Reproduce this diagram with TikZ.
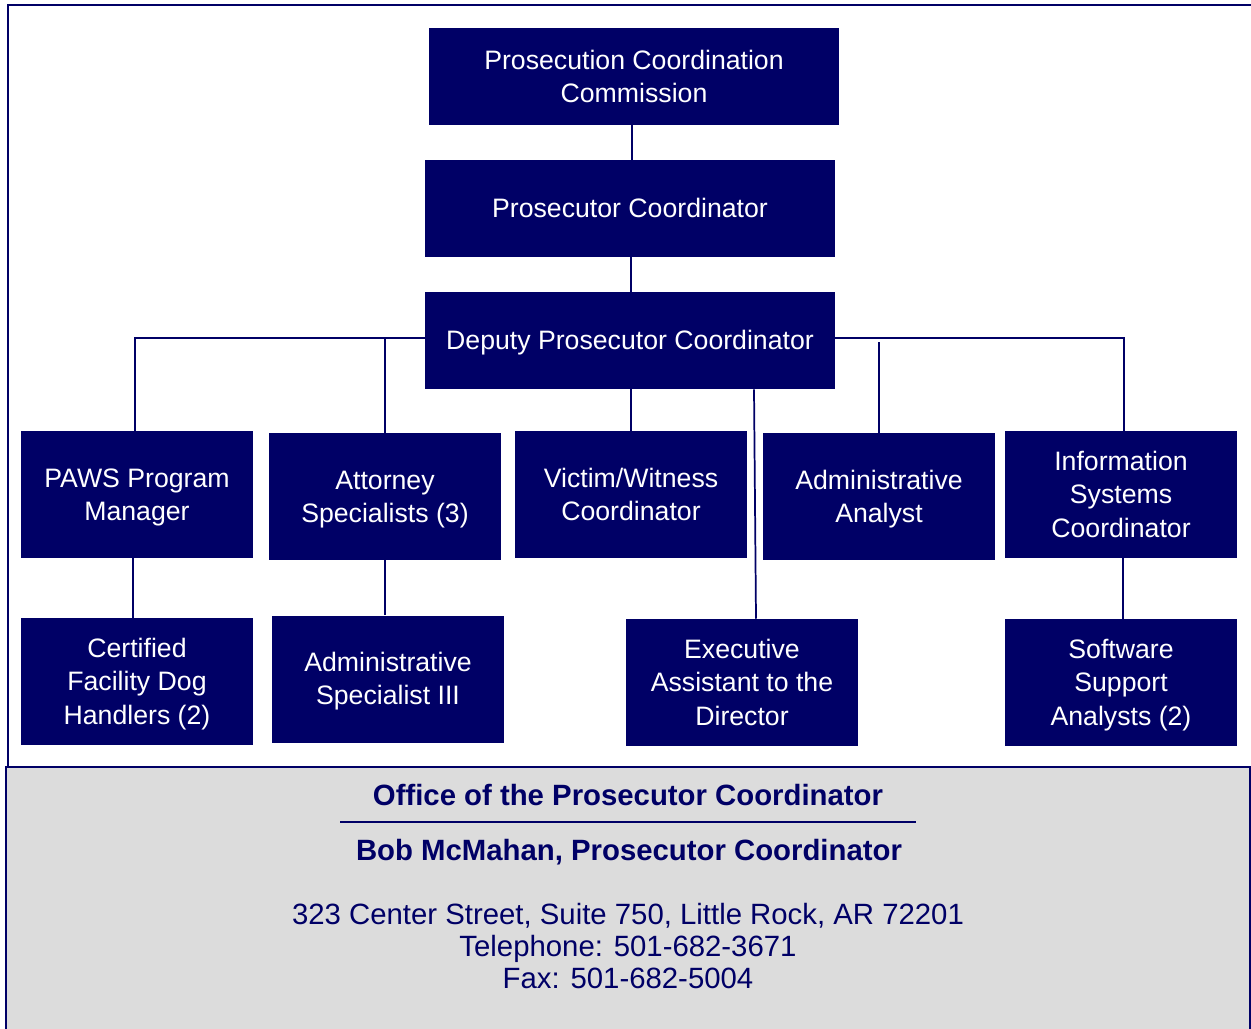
\documentclass[tikz,border=0pt]{standalone}
\usepackage{fontspec}
\setmainfont{Liberation Sans}
\definecolor{navy}{RGB}{0,0,102}
\definecolor{panelgray}{RGB}{220,220,220}

\begin{document}
\begin{tikzpicture}[x=0.75pt, y=-0.75pt,
  post/.style={fill=navy, text=white, inner sep=0pt, align=flush center, text width=174pt, minimum width=174pt, minimum height=95.25pt, font=\fontsize{20}{25}\selectfont,
    execute at begin node={\leftskip=0pt plus 1fil\rightskip=0pt plus 1fil\parfillskip=0pt\spaceskip=0pt\xspaceskip=0pt\rule{0pt}{18.1pt}},
    execute at end node=\rule[-4.24pt]{0pt}{4.24pt}},
  toppost/.style={post, text width=307.5pt, minimum width=307.5pt, minimum height=72.75pt},
  link/.style={navy, line width=1.3pt},
  footer/.style={text=navy, align=center, inner sep=0pt, font=\fontsize{22}{24}\selectfont},
  footerhead/.style={footer, text height=16pt, text depth=0pt, font=\fontsize{22}{24}\selectfont\bfseries}]

\useasboundingbox (0,0) rectangle (1251,1028);
\begin{scope}
\clip (0,0) rectangle (1251,1028);
\draw[navy, line width=1.8pt] (8,5) rectangle (1270,767);
\filldraw[fill=panelgray, draw=navy, line width=1.5pt] (6,767) rectangle (1250,1060);
\end{scope}

\node (pcc) at (634,76.5) [toppost] {Prosecution Coordination\\Commission};
\node (pc) at (630,208.5) [toppost] {Prosecutor Coordinator};
\node (dpc) at (630,340.5) [toppost] {Deputy Prosecutor Coordinator};

\node (paws) at (137,494.5) [post] {PAWS Program\\Manager};
\node (atty) at (385,496.5) [post] {Attorney\\Specialists (3)};
\node (vwc) at (631,494.5) [post] {Victim/Witness\\Coordinator};
\node (aa) at (879,496.5) [post] {Administrative\\Analyst};
\node (isc) at (1121,494.5) [post] {Information\\Systems\\Coordinator};

\node (cfd) at (137,681.5) [post] {Certified\\Facility Dog\\Handlers (2)};
\node (as3) at (388,679) [post] {Administrative\\Specialist III};
\node (exa) at (742,682.5) [post] {Executive\\Assistant to the\\Director};
\node (ssa) at (1121,682.5) [post] {Software\\Support\\Analysts (2)};

\draw[link] (pcc.south -| 632,0) -- (pc.north -| 632,0);
\draw[link] (pc.south -| 631,0) -- (dpc.north -| 631,0);
\draw[link] (dpc.west |- 0,338) -| (paws.north -| 135,0);
\draw[link] (atty.north |- 0,338) -- (atty.north);
\draw[link] (dpc.east |- 0,338) -| (isc.north -| 1124,0);
\draw[link] (aa.north |- 0,342) -- (aa.north);
\draw[link] (dpc.south -| vwc.north) -- (vwc.north);
\draw[link] (dpc.south -| 754,0) -- (exa.north -| 756,0);
\draw[link] (paws.south -| 133,0) -- (cfd.north -| 133,0);
\draw[link] (atty.south) -- (as3.north -| atty.south);
\draw[link] (isc.south -| 1123,0) -- (ssa.north -| 1123,0);

\node (office) at (628,795) [footerhead] {Office of the Prosecutor Coordinator};
\coordinate (rulel) at (340,822);
\coordinate (ruler) at (916,822);
\draw[navy, line width=2pt] (rulel) -- (ruler);
\node (director) at (629,850) [footerhead] {Bob McMahan, Prosecutor Coordinator};
\node (addr) at (628,946) [footer] {323 Center Street, Suite 750, Little Rock, AR 72201\\Telephone: 501-682-3671\\Fax: 501-682-5004};

\end{tikzpicture}
\end{document}
